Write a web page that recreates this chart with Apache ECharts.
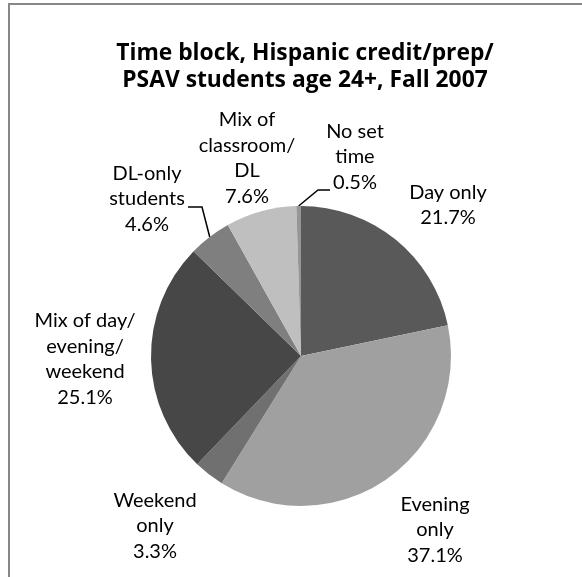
<!DOCTYPE html>
<html>
<head>
<meta charset="utf-8">
<script src="https://cdn.jsdelivr.net/npm/echarts@6/dist/echarts.min.js"></script>
<style>
  html, body { margin: 0; padding: 0; background: #fff; }
  #chart { width: 582px; height: 577px; }
</style>
</head>
<body>
<div id="chart"></div>
<script>
// Slice names (with line breaks as shown in the labels), shares in percent, fill colours
const categories = [
  'Day only',
  'Evening\nonly',
  'Weekend\nonly',
  'Mix of day/\nevening/\nweekend',
  'DL-only\nstudents',
  'Mix of\nclassroom/\nDL',
  'No set\ntime'
];
const shares = [21.7, 37.1, 3.3, 25.1, 4.6, 7.6, 0.5];
const colors = ['#595959', '#a0a0a0', '#707070', '#474747', '#7f7f7f', '#bfbfbf', '#969696'];

// Label anchor positions (centre of each text block) and optional leader-line elbows
const labelPos = [
  [448, 205], [435, 530], [155, 526], [85, 359], [147, 199], [247, 158], [355, 157]
];
const leaderElbow = {
  4: [[202, 207], [188, 207]],
  6: [[318, 190], [330, 190]]
};

const chart = echarts.init(document.getElementById('chart'), null, { renderer: 'canvas' });

chart.setOption({
  animation: false,
  backgroundColor: '#ffffff',
  title: {
    text: 'Time block, Hispanic credit/prep/\nPSAV students age 24+, Fall 2007',
    left: 300,
    top: 35,
    textAlign: 'center',
    textStyle: {
      fontFamily: 'Open Sans',
      fontWeight: 'bold',
      fontSize: 22.8,
      lineHeight: 27,
      color: '#000'
    }
  },
  graphic: [{
    type: 'rect',
    shape: { x: 9, y: 4, width: 600, height: 600 },
    style: { fill: 'none', stroke: '#878787', lineWidth: 2 },
    silent: true
  }],
  series: [{
    type: 'pie',
    center: [301, 356],
    radius: 150,
    startAngle: 90,
    clockwise: true,
    avoidLabelOverlap: false,
    itemStyle: { borderWidth: 0 },
    label: {
      show: true,
      position: 'outside',
      formatter: p => p.name + '\n' + p.value.toFixed(1) + '%',
      fontFamily: 'Lato',
      fontSize: 20,
      lineHeight: 25.5,
      color: '#000',
      align: 'center'
    },
    labelLine: { show: false, lineStyle: { color: '#000', width: 1.5 } },
    labelLayout: function (params) {
      const i = params.dataIndex;
      const out = {
        x: labelPos[i][0],
        y: labelPos[i][1],
        align: 'center',
        verticalAlign: 'middle',
        hideOverlap: false
      };
      if (leaderElbow[i] && params.labelLinePoints) {
        out.labelLinePoints = [params.labelLinePoints[0]].concat(leaderElbow[i]);
      }
      return out;
    },
    data: categories.map((name, i) => ({
      name: name,
      value: shares[i],
      itemStyle: { color: colors[i] },
      labelLine: { show: !!leaderElbow[i] }
    }))
  }]
});
</script>
</body>
</html>
